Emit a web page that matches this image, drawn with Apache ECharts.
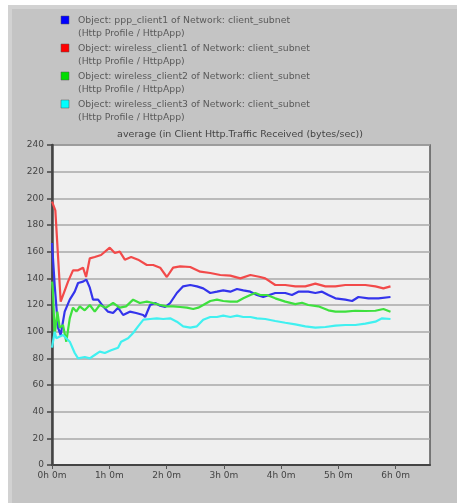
<!DOCTYPE html>
<html>
<head>
<meta charset="utf-8">
<script src="https://cdn.jsdelivr.net/npm/echarts@6/dist/echarts.min.js"></script>
<style>
  html, body { margin: 0; padding: 0; background: #ffffff; }
  #chart { width: 457px; height: 503px; }
</style>
</head>
<body>
<div id="chart"></div>
<script>
// Time is in minutes since simulation start; values are bytes/sec.
const yTicks = [0, 20, 40, 60, 80, 100, 120, 140, 160, 180, 200, 220, 240];
const xTickHours = [0, 1, 2, 3, 4, 5, 6];

const seriesNames = [
  'Object: ppp_client1 of Network: client_subnet',
  'Object: wireless_client1 of Network: client_subnet',
  'Object: wireless_client2 of Network: client_subnet',
  'Object: wireless_client3 of Network: client_subnet'
];
const seriesSubtitle = '(Http Profile / HttpApp)';
const chartTitle = 'average (in Client Http.Traffic Received (bytes/sec))';

const pppTime = [0, 2.8, 6.3, 9.1, 13.3, 18.6, 23.8, 27.3, 32.5, 36.0, 39.6, 43.0, 48.3, 53.5, 58.7, 64.0, 69.2, 74.5, 81.5, 88.1, 95.5, 97.6, 102.8, 108.1, 113.3, 118.6, 123.8, 130.8, 137.4, 144.8, 151.8, 158.4, 165.8, 172.8, 179.4, 186.8, 193.8, 200.4, 207.8, 214.7, 221.3, 233.9, 244.4, 251.4, 258.1, 268.5, 275.9, 282.9, 289.5, 296.9, 307.3, 314.4, 321.0, 331.5, 342.0, 354.6];
const pppValue = [166.5, 135, 103, 97.5, 115, 124, 130, 136.5, 137.5, 139, 133, 124, 124, 119, 115, 114, 118, 112.5, 115, 114, 112.5, 111, 120, 121.5, 119.5, 118.5, 121.5, 129, 134, 135, 134, 132.5, 129, 130, 131, 130, 132, 131, 130, 127.5, 126, 129, 129, 127.5, 130, 130, 129, 130, 127.5, 125, 124, 123, 126, 125, 125, 126];

const wl1Time = [0, 3.5, 9.1, 16.8, 22.0, 27.3, 32.5, 35.7, 39.6, 44.8, 51.4, 60.5, 65.8, 71.0, 76.3, 82.9, 90.2, 99.3, 106.0, 113.3, 120.3, 126.9, 134.3, 144.8, 155.3, 165.8, 176.3, 186.8, 197.3, 207.8, 218.2, 223.4, 233.9, 244.4, 254.9, 265.4, 275.9, 286.4, 296.9, 307.3, 317.8, 328.3, 338.8, 347.2, 354.6];
const wl1Value = [197.5, 191, 122.5, 137.5, 146, 146, 148, 141, 155, 156, 157.5, 163, 159, 160, 154, 156, 154, 150, 150, 148, 141, 148, 149, 148.5, 145, 144, 142.5, 142, 140, 142.5, 141, 140, 135, 135, 134, 134, 136, 134, 134, 135, 135, 135, 134, 132.5, 134];

const wl2Time = [0, 1.0, 2.8, 5.6, 8.1, 11.5, 15.0, 18.6, 22.0, 25.5, 29.1, 34.3, 39.6, 44.8, 50.0, 56.6, 64.0, 71.0, 77.6, 85.0, 92.0, 99.3, 106.0, 113.3, 120.3, 126.9, 134.3, 141.3, 147.9, 153.2, 158.4, 165.8, 172.8, 179.4, 186.8, 193.8, 200.4, 207.8, 213.0, 218.2, 225.2, 233.9, 244.4, 254.9, 261.9, 268.5, 279.0, 289.5, 296.9, 307.3, 317.8, 328.3, 338.8, 347.2, 354.6];
const wl2Value = [137.5, 130, 97.5, 115, 103, 105, 92.5, 110, 118, 115, 119, 116, 120, 115, 120, 118, 121.5, 118, 119, 124, 121.5, 122.5, 121.5, 120, 119, 119, 118.5, 118, 117, 118, 120, 123, 124, 123, 122.5, 122.5, 125, 127.5, 129, 127.5, 127.5, 125, 122.5, 120.7, 121.7, 120, 119, 116, 115, 115, 115.7, 115.5, 115.7, 117, 115];

const wl3Time = [0, 2.8, 4.5, 11.5, 18.6, 23.8, 27.3, 34.3, 39.6, 44.8, 50.0, 55.3, 61.9, 69.2, 72.4, 79.7, 85.0, 90.2, 95.8, 102.8, 109.8, 116.4, 123.8, 130.8, 137.4, 144.8, 151.8, 158.4, 165.8, 172.8, 179.4, 186.8, 193.8, 200.4, 207.8, 214.7, 223.4, 233.9, 244.4, 254.9, 265.4, 275.9, 286.4, 296.9, 307.3, 317.8, 328.3, 338.8, 345.8, 354.6];
const wl3Value = [88, 100, 95, 97.5, 92.5, 84, 80, 81, 80, 82.5, 85, 84, 86, 88, 92.5, 95, 99, 104, 109, 109.5, 110, 109.5, 110, 107.5, 104, 103, 104, 109, 111, 111, 112, 111, 112, 111, 111, 110, 109.5, 108, 106.7, 105.5, 104, 103, 103.5, 104.5, 105, 105, 106, 107.5, 110, 109.5];

const lineColors = ['#3434ec', '#f24a4a', '#3ee03e', '#40f0f0'];
const swatchColors = ['#0000ff', '#ff0000', '#00dd00', '#00ffff'];

const zip = (t, v) => t.map((x, i) => [x, v[i]]);
const seriesData = [
  zip(pppTime, pppValue),
  zip(wl1Time, wl1Value),
  zip(wl2Time, wl2Value),
  zip(wl3Time, wl3Value)
];

const FONT = 'DejaVu Sans';
const chart = echarts.init(document.getElementById('chart'), null, { renderer: 'canvas' });

// Legend block drawn as graphic text: swatch + two-line caption per series.
const legendGraphics = [];
seriesNames.forEach((name, i) => {
  const top = 16 + i * 28;
  legendGraphics.push({
    type: 'rect',
    shape: { x: 61, y: top, width: 8, height: 8 },
    style: { fill: swatchColors[i], stroke: '#555', lineWidth: 0.5 }
  });
  legendGraphics.push({
    type: 'text',
    x: 78, y: top - 2,
    style: {
      text: name + '\n' + seriesSubtitle,
      font: '9.3px "' + FONT + '"',
      fill: '#5a5a5a',
      lineHeight: 13
    }
  });
});

chart.setOption({
  animation: false,
  backgroundColor: '#ffffff',
  graphic: [
    { type: 'rect', z: -10, shape: { x: 8, y: 5, width: 449, height: 498 }, style: { fill: '#d2d2d2' } },
    { type: 'rect', z: -9, shape: { x: 12, y: 9, width: 445, height: 494 }, style: { fill: '#c4c4c4' } },
    {
      type: 'text', x: 240, y: 130, z: 5,
      style: { text: chartTitle, font: '9.5px "' + FONT + '"', fill: '#444444', align: 'center' }
    },
    ...legendGraphics
  ],
  grid: {
    left: 52, top: 145, right: 27, bottom: 38,
    show: true,
    backgroundColor: '#efefef',
    borderColor: '#5a5a5a',
    borderWidth: 1.5
  },
  xAxis: {
    type: 'value',
    min: 0,
    max: 396,
    interval: 60,
    axisLine: { show: true, onZero: false, lineStyle: { color: '#444', width: 2 } },
    axisTick: { show: true, length: 4, lineStyle: { color: '#555' } },
    splitLine: { show: false },
    axisLabel: {
      showMaxLabel: false,
      margin: 6,
      fontFamily: FONT, fontSize: 9, color: '#444',
      formatter: v => {
        const h = v / 60;
        return xTickHours.includes(h) ? h + 'h 0m' : '';
      }
    }
  },
  yAxis: {
    type: 'value',
    min: yTicks[0],
    max: yTicks[yTicks.length - 1],
    interval: 20,
    axisLine: { show: true, lineStyle: { color: '#444', width: 2.5 } },
    axisTick: { show: true, length: 5, lineStyle: { color: '#444', width: 1.5 } },
    splitLine: { show: true, lineStyle: { color: '#a8a8a8', width: 1.5 } },
    axisLabel: { margin: 8, fontFamily: FONT, fontSize: 9, color: '#444' }
  },
  series: seriesData.map((d, i) => ({
    name: seriesNames[i],
    type: 'line',
    data: d,
    showSymbol: false,
    symbol: 'none',
    lineStyle: { color: lineColors[i], width: 2.2 },
    z: 3
  }))
});
</script>
</body>
</html>
